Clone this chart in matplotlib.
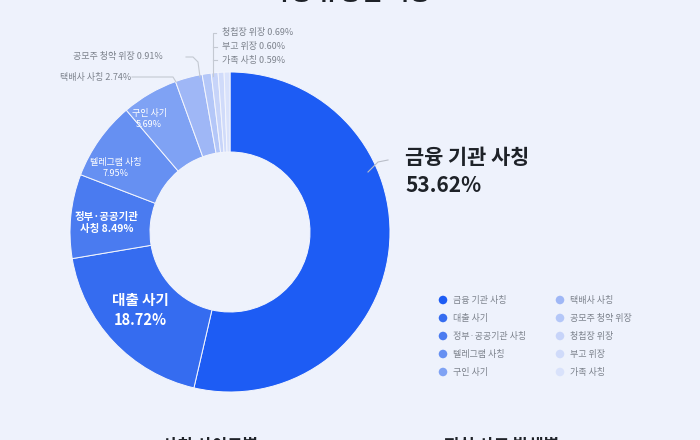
import matplotlib
matplotlib.use("Agg")
import matplotlib.pyplot as plt

plt.rcParams['font.family'] = ['Noto Sans CJK KR', 'DejaVu Sans']

categories = ["금융 기관 사칭", "대출 사기", "정부·공공기관 사칭", "텔레그램 사칭", "구인 사기",
              "택배사 사칭", "공모주 청약 위장", "청첩장 위장", "부고 위장", "가족 사칭"]
values = [53.62, 18.72, 8.49, 7.95, 5.69, 2.74, 0.91, 0.69, 0.60, 0.59]
colors = ["#1d5cf4", "#356cf0", "#4a7bf0", "#6690f2", "#7fa2f4",
          "#9fb7f6", "#b4c7f8", "#c7d4f9", "#d0dbfa", "#d9e2fb"]

BG = "#eef2fc"
W, H = 700, 440
fig = plt.figure(figsize=(7, 4.4), dpi=100, facecolor=BG)

# donut axes: center (230,232) px, radius 160 px
cx, cy, R = 230, 232, 160
ax = fig.add_axes([(cx - R) / W, (H - cy - R) / H, 2 * R / W, 2 * R / H])
ax.set_facecolor("none")
wedges, _ = ax.pie(values, colors=colors, startangle=90, counterclock=False, radius=1,
                   wedgeprops=dict(width=0.5, edgecolor="#f4f6fd", linewidth=0.7))
ax.set_xlim(-1, 1)
ax.set_ylim(-1, 1)
ax.axis("off")

# overlay axes in pixel coords
ov = fig.add_axes([0, 0, 1, 1])
ov.set_xlim(0, W)
ov.set_ylim(H, 0)
ov.axis("off")
ov.set_facecolor("none")

# clipped title and bottom headings (cut by the frame, as in the reference)
ov.text(350, -7, "사칭 유형별 비중", ha="center", va="center", fontsize=17,
        fontweight="bold", color="#1e2228", clip_on=False)
ov.text(210, 446, "사칭 사이트별", ha="center", va="center", fontsize=12,
        fontweight="bold", color="#1e2228", clip_on=False)
ov.text(502, 446, "피싱 사고 발생별", ha="center", va="center", fontsize=12,
        fontweight="bold", color="#1e2228", clip_on=False)

# inside labels (white)
ov.text(140, 310, f"{categories[1]}\n{values[1]:.2f}%", ha="center", va="center",
        fontsize=10.5, fontweight="bold", color="white", linespacing=1.3)
ov.text(107, 223, f"정부·공공기관\n사칭 {values[2]:.2f}%", ha="center", va="center",
        fontsize=7.5, fontweight="bold", color="white", linespacing=1.3)
ov.text(116, 168, f"{categories[3]}\n{values[3]:.2f}%", ha="center", va="center",
        fontsize=6.5, color="white", linespacing=1.3)
ov.text(149, 119, f"{categories[4]}\n{values[4]:.2f}%", ha="center", va="center",
        fontsize=6.5, color="white", linespacing=1.3)

# big label for largest slice
ov.plot([368, 378, 388], [172, 162, 160], color="#b9bec8", lw=0.8)
ov.text(405, 158, categories[0], ha="left", va="center", fontsize=15,
        fontweight="bold", color="#1e2228")
ov.text(405, 186, f"{values[0]:.2f}%", ha="left", va="center", fontsize=15,
        fontweight="bold", color="#1e2228")

gray = "#7d838d"
line = "#c4c9d2"
# outside small labels
ov.text(60, 77, f"{categories[5]} {values[5]:.2f}%", ha="left", va="center",
        fontsize=6.5, color=gray)
ov.plot([132, 173, 176], [77, 77, 82], color=line, lw=0.8)
ov.text(73, 57, f"{categories[6]} {values[6]:.2f}%", ha="left", va="center",
        fontsize=6.5, color=gray)
ov.plot([186, 193, 198, 200], [57, 57, 62, 77], color=line, lw=0.8)
for i, yy in zip([7, 8, 9], [33, 47, 60]):
    ov.text(222, yy, f"{categories[i]} {values[i]:.2f}%", ha="left", va="center",
            fontsize=6.5, color=gray)
ov.plot([216, 213, 213], [33, 33, 76], color=line, lw=0.8)
ov.plot([213, 217], [47, 47], color=line, lw=0.8)
ov.plot([213, 217], [60, 60], color=line, lw=0.8)

# legend
xs = [443, 560]
ys = [300, 318, 336, 354, 372]
for k, (name, col) in enumerate(zip(categories, colors)):
    x = xs[k // 5]
    y = ys[k % 5]
    ov.scatter([x], [y], s=38, color=col, edgecolors="none")
    ov.text(x + 10, y, name, ha="left", va="center", fontsize=6.5, color=gray)

fig.savefig("out.png", dpi=100, facecolor=BG)
